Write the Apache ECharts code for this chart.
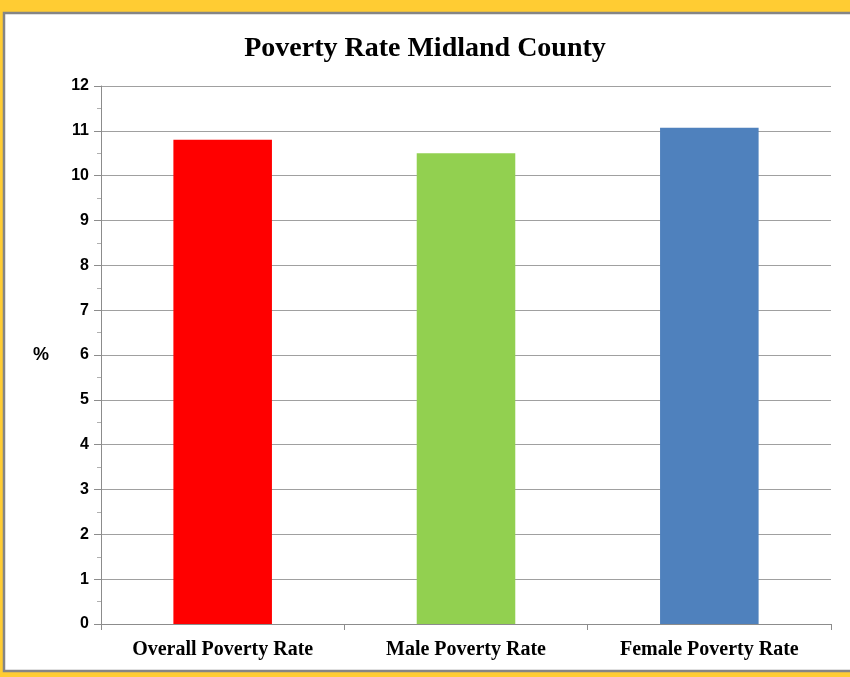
<!DOCTYPE html>
<html>
<head>
<meta charset="utf-8">
<script src="https://cdn.jsdelivr.net/npm/echarts@6/dist/echarts.min.js"></script>
<style>
html,body{margin:0;padding:0;background:#FFCC33;}
#chart{width:850px;height:677px;}
</style>
</head>
<body>
<div id="chart"></div>
<script>
var titleText = "Poverty Rate Midland County";
var categories = ["Overall Poverty Rate", "Male Poverty Rate", "Female Poverty Rate"];
var values = [10.8, 10.5, 11.07];
var barColors = ["#FF0000", "#92D050", "#4F81BD"];
var yTicks = [0, 12, 1];
var yAxisName = "%";

var chart = echarts.init(document.getElementById('chart'));
chart.setOption({
  backgroundColor: '#FFCC33',
  animation: false,
  graphic: [{
    type: 'rect', z: -10, silent: true,
    shape: {x: 4, y: 13, width: 880, height: 658},
    style: {fill: '#FFFFFF', stroke: '#858585', lineWidth: 2.5}
  }],
  title: {
    text: titleText, left: 'center', top: 30,
    textStyle: {fontFamily: 'Liberation Serif', fontWeight: 'bold', fontSize: 28, color: '#000'}
  },
  grid: {left: 101, right: 19, top: 86, bottom: 53},
  xAxis: {
    type: 'category', data: categories,
    axisLine: {lineStyle: {color: '#8c8c8c', width: 1}},
    axisTick: {show: true, length: 6, lineStyle: {color: '#8c8c8c'}},
    axisLabel: {margin: 16, color: '#000', fontFamily: 'Liberation Serif', fontWeight: 'bold', fontSize: 20}
  },
  yAxis: {
    type: 'value', min: yTicks[0], max: yTicks[1], interval: yTicks[2],
    name: yAxisName, nameLocation: 'middle', nameRotate: 0, nameGap: 52,
    nameTextStyle: {color: '#000', fontFamily: 'Liberation Sans', fontWeight: 'bold', fontSize: 18},
    axisLine: {show: true, lineStyle: {color: '#8c8c8c'}},
    axisTick: {show: true, length: 7, lineStyle: {color: '#8c8c8c'}},
    minorTick: {show: true, splitNumber: 2, length: 4, lineStyle: {color: '#b0b0b0'}},
    axisLabel: {margin: 12, color: '#000', fontFamily: 'Liberation Sans', fontWeight: 'bold', fontSize: 16},
    splitLine: {show: true, lineStyle: {color: '#a0a0a0', width: 1}}
  },
  series: [{
    type: 'bar', barWidth: '40.5%',
    data: values.map(function(v, i){ return {value: v, itemStyle: {color: barColors[i]}}; })
  }]
});
</script>
</body>
</html>
